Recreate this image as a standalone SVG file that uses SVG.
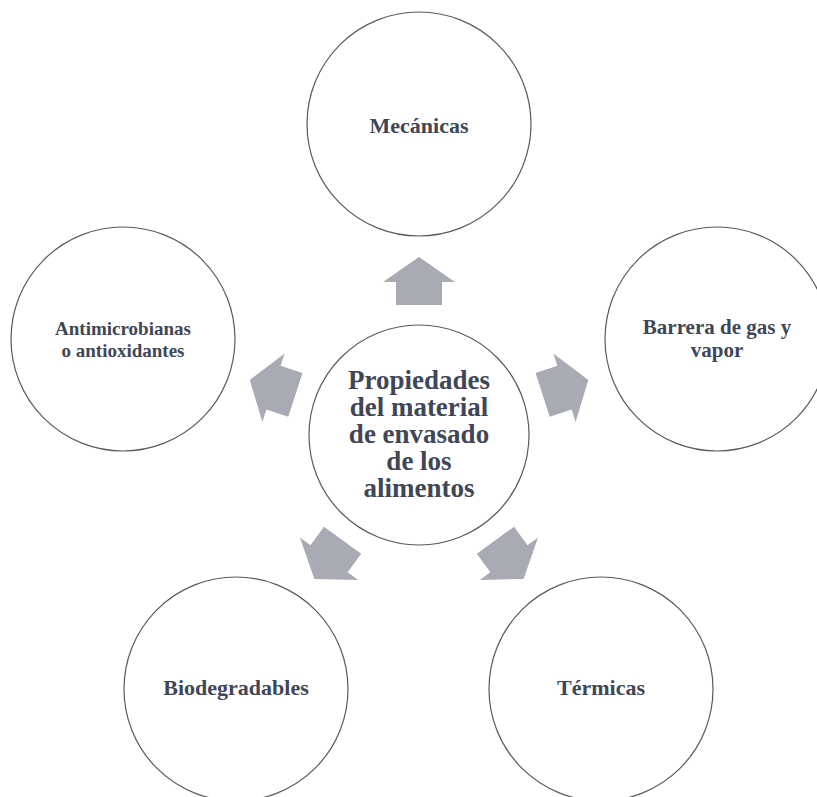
<svg xmlns="http://www.w3.org/2000/svg" width="817" height="797" viewBox="0 0 817 797">
<style>
.c{fill:#ffffff;stroke:#5a5a5a;stroke-width:1.2}
.t{font-family:"Liberation Serif","Times New Roman",serif;font-weight:bold;fill:#3f4756;text-anchor:middle}
.a{fill:#a8abb4}
</style>
<defs>
<polygon id="arr" points="0,-178 36,-153 23,-153 23,-130 -23,-130 -23,-153 -36,-153"/>
</defs>
<rect width="817" height="797" fill="#ffffff"/>
<g id="node-mecanicas">
<circle class="c" cx="419" cy="124" r="112"/>
<text class="t" x="419" y="133" font-size="22">Mecánicas</text>
</g>
<g id="node-barrera">
<circle class="c" cx="717" cy="339" r="112"/>
<text class="t" font-size="21"><tspan x="717" y="334">Barrera de gas y</tspan><tspan x="717" y="357">vapor</tspan></text>
</g>
<g id="node-termicas">
<circle class="c" cx="601" cy="689" r="112"/>
<text class="t" x="601" y="695" font-size="22">Térmicas</text>
</g>
<g id="node-biodegradables">
<circle class="c" cx="236" cy="689" r="112"/>
<text class="t" x="236" y="695" font-size="22">Biodegradables</text>
</g>
<g id="node-antimicrobianas">
<circle class="c" cx="123" cy="339" r="112"/>
<text class="t" font-size="19"><tspan x="123" y="335">Antimicrobianas</tspan><tspan x="123" y="357">o antioxidantes</tspan></text>
</g>
<g id="node-center">
<circle class="c" cx="419" cy="435" r="110"/>
<text class="t" font-size="27"><tspan x="419" y="389">Propiedades</tspan><tspan x="419" y="416">del material</tspan><tspan x="419" y="443">de envasado</tspan><tspan x="419" y="470">de los</tspan><tspan x="419" y="497">alimentos</tspan></text>
</g>
<g id="connectors">
<use href="#arr" class="a" transform="translate(419,435)"/>
<use href="#arr" class="a" transform="translate(419,435) rotate(72)"/>
<use href="#arr" class="a" transform="translate(419,435) rotate(144)"/>
<use href="#arr" class="a" transform="translate(419,435) rotate(216)"/>
<use href="#arr" class="a" transform="translate(419,435) rotate(288)"/>
</g>
</svg>
